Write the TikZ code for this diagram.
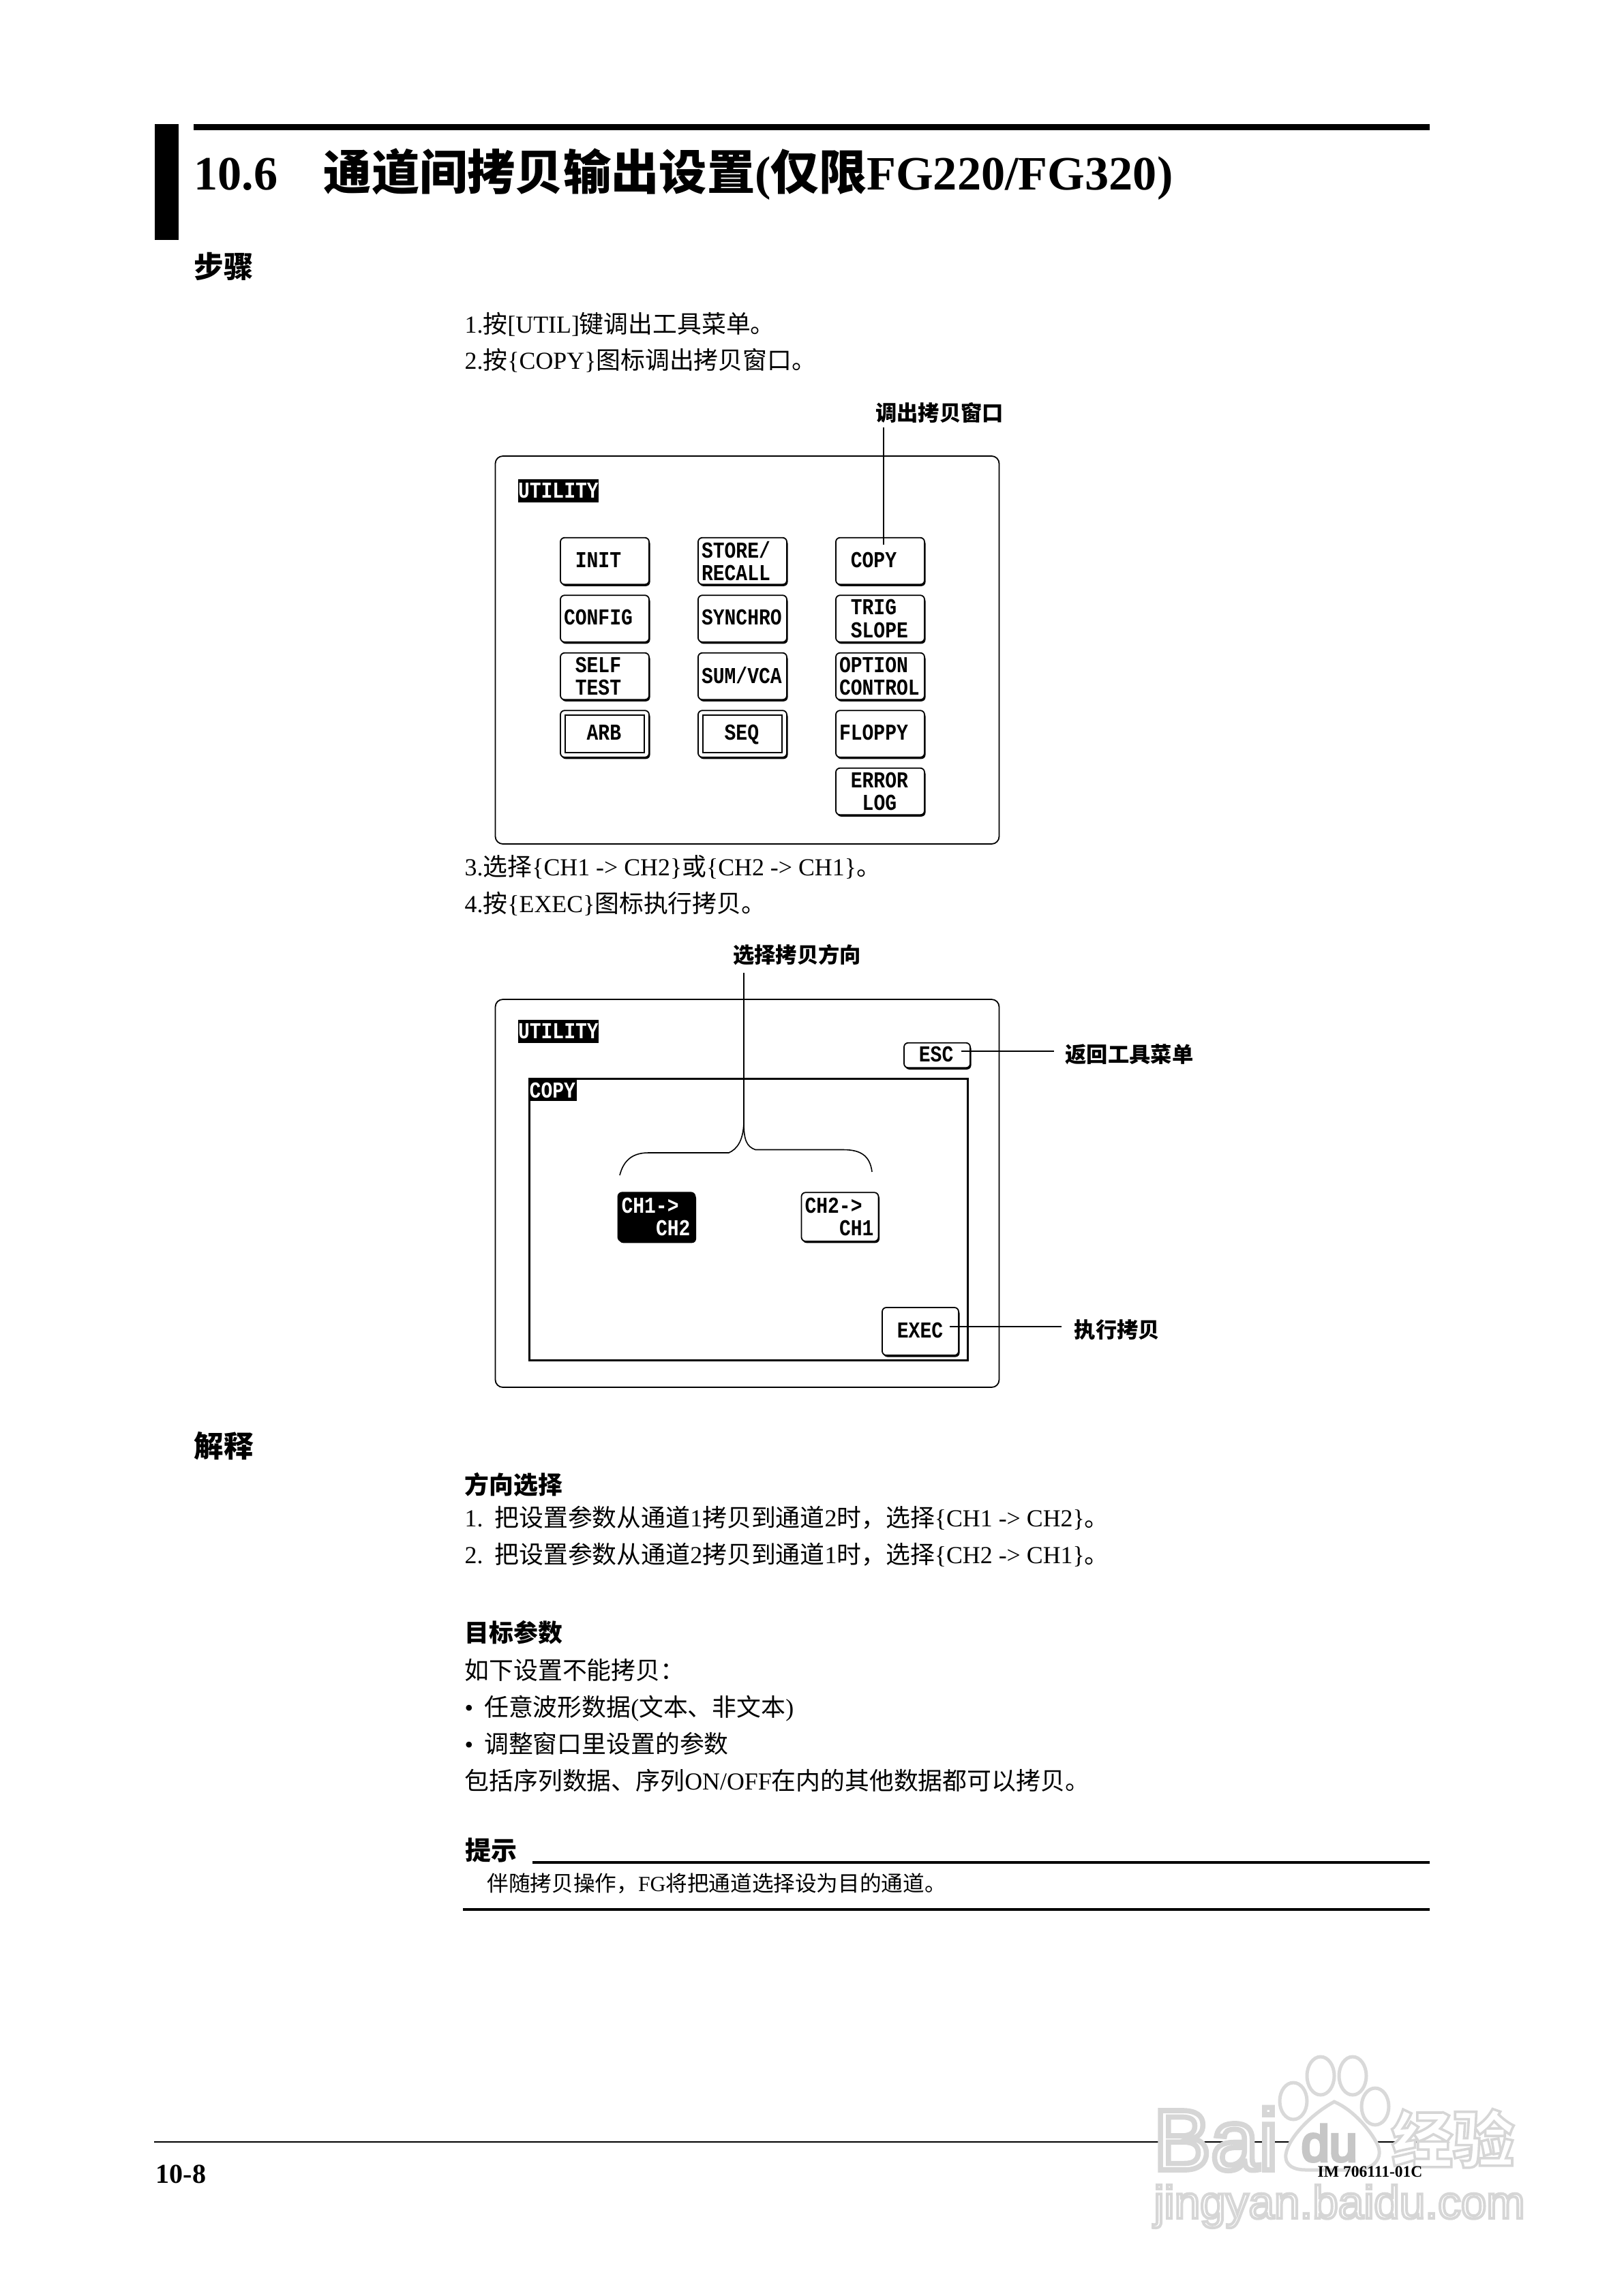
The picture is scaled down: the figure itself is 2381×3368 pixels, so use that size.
\documentclass[tikz,border=0pt]{standalone}
\usepackage{fontspec}
\setmainfont{Liberation Serif}
\newfontfamily\cjk{Noto Sans CJK SC}
\newfontfamily\scrfont[FakeStretch=.84]{Liberation Mono}
\newfontfamily\wmlat[FakeBold=6]{Liberation Sans}
\newfontfamily\wmzh[FakeBold=4]{Noto Sans CJK SC}
\usepackage{tikz}
\usetikzlibrary{positioning,shapes,shadows,calc}
\newcommand{\zh}[1]{{\cjk #1}}
\newcommand{\sk}{\phantom{X}}
\newcommand{\wmink}{\special{pdf:code 1 g .84 G}}
\tikzset{
    screentxt/.style={font=\scrfont\bfseries\fontsize{9.5}{9.4}\selectfont},
    btn/.style={screentxt, draw, fill=white, rounded corners=.6mm, line width=.18mm, outer sep=0,
        inner xsep=.5mm, inner ysep=0, text width=12mm, align=left, minimum height=6.85mm,
        general shadow={shadow xshift=.15mm, shadow yshift=-.25mm, fill=black}},
    oneline/.style={text depth=.4mm},
    btninner/.style={line width=.18mm},
    panelbox/.style={rectangle, rounded corners=1.1mm, draw, line width=.18mm, minimum width=73.9mm,
        minimum height=56.9mm, outer sep=0, inner sep=0},
    tag/.style={screentxt, fill=black, text=white, inner xsep=0, inner ysep=0, text width=11.8mm,
        minimum height=3.4mm},
    leader/.style={line width=.16mm},
    lbl/.style={font=\cjk\bfseries\fontsize{8.9}{11}\selectfont, inner sep=0},
    bodytxt/.style={anchor=base west, inner sep=0, font=\fontsize{10.2}{12}\selectfont},
    headtxt/.style={anchor=base west, inner sep=0, font=\cjk\bfseries\fontsize{10.2}{12}\selectfont},
    sidetxt/.style={anchor=base west, inner sep=0, font=\cjk\bfseries\fontsize{12.4}{14}\selectfont},
    rulebar/.style={line width=.4mm},
    wmtxt/.style={anchor=base west, inner sep=0},
    wmline/.style={draw=gray!30, line width=.5mm, fill=white}
}

\begin{document}
\begin{tikzpicture}[x=.1mm,y=-.1mm]
\useasboundingbox (0,0) rectangle (2381,3368);
\fill (227,182) rectangle (262,352);
\fill (284,182) rectangle (2097,191);
\node[anchor=base west, inner sep=0, font=\bfseries\fontsize{20}{24}\selectfont] (title) at (284,278)
    {10.6\hspace*{6.7mm}\zh{通道间拷贝输出设置}(\zh{仅限}FG220/FG320)};
\node[sidetxt] (stepshead) at (284,407) {步骤};
\node[bodytxt] (step1) at (681,488) {1.\zh{按}[UTIL]\zh{键调出工具菜单。}};
\node[bodytxt] (step2) at (681,541) {2.\zh{按}\{COPY\}\zh{图标调出拷贝窗口。}};
\node[bodytxt] (step3) at (681,1284) {3.\zh{选择}\{CH1 -> CH2\}\zh{或}\{CH2 -> CH1\}\zh{。}};
\node[bodytxt] (step4) at (681,1338) {4.\zh{按}\{EXEC\}\zh{图标执行拷贝。}};

\node[panelbox] (menupanel) at (1096,953.5) {};
\node[tag] (menutag) at (819,720) {UTILITY};
\node[btn,oneline] (btninit) at (887,823) {\sk INIT};
\node[btn,oneline,below=1.6mm of btninit] (btnconfig) {CONFIG};
\node[btn,below=1.6mm of btnconfig] (btnself) {\sk SELF\\\sk TEST};
\node[btn,oneline,below=1.6mm of btnself] (btnarb) {\phantom{XX}ARB};
\node[btn,right=7.2mm of btninit] (btnstore) {STORE/\\RECALL};
\node[btn,oneline,below=1.6mm of btnstore] (btnsynchro) {SYNCHRO};
\node[btn,oneline,below=1.6mm of btnsynchro] (btnsum) {SUM/VCA};
\node[btn,oneline,below=1.6mm of btnsum] (btnseq) {\phantom{XX}SEQ};
\node[btn,oneline,right=7.2mm of btnstore] (btncopy) {\sk COPY};
\node[btn,below=1.6mm of btncopy] (btntrig) {\sk TRIG\\\sk SLOPE};
\node[btn,below=1.6mm of btntrig] (btnoption) {OPTION\\CONTROL};
\node[btn,oneline,below=1.6mm of btnoption] (btnfloppy) {FLOPPY};
\node[btn,below=1.6mm of btnfloppy] (btnerror) {\sk ERROR\\\phantom{XX}LOG};
\draw[btninner] ($(btnarb.south west)+(7,-7)$) rectangle ($(btnarb.north east)+(-7,7)$);
\draw[btninner] ($(btnseq.south west)+(7,-7)$) rectangle ($(btnseq.north east)+(-7,7)$);
\node[lbl] (lblcopy) at (1378,606) {调出拷贝窗口};
\coordinate (tipcopy) at ($(btncopy.north)+(5,10)$);
\draw[leader] ($(lblcopy.south -| tipcopy)+(0,5)$) -- (tipcopy);

\node[panelbox] (copypanel) at (1096,1750.5) {};
\node[tag] (copytag) at (819,1513) {UTILITY};
\node[draw, line width=.3mm, fill=white, minimum width=64.3mm, minimum height=41.3mm, outer sep=0, inner sep=0,
    general shadow={shadow xshift=.1mm, shadow yshift=-.15mm, fill=black}] (copyframe) at (1097.5,1788.5) {};
\node[tag, text width=6.9mm, minimum height=3.1mm, anchor=north west] (frametag) at (776,1583) {COPY};
\node[btn, oneline, text width=8.7mm, minimum height=3.65mm] (btnesc) at (1374.5,1548) {\sk ESC};
\node[btn, text width=10.3mm, minimum height=7.15mm, fill=black, text=white] (btnchone) at (963,1785) {CH1->\\\phantom{XXX}CH2};
\node[btn, text width=10.3mm, minimum height=7.15mm, right=15.6mm of btnchone] (btnchtwo) {CH2->\\\phantom{XXX}CH1};
\node[btn, oneline, text width=10.2mm, minimum height=7mm] (btnexec) at (1350,1953) {\sk EXEC};
\node[lbl] (lbldir) at (1169,1401) {选择拷贝方向};
\node[lbl, anchor=west] (lblesc) at (1562,1547) {返回工具菜单};
\node[lbl, anchor=west] (lblexec) at (1575,1951) {执行拷贝};
\coordinate (bracetip) at (1091,1647);
\draw[leader] ($(lbldir.south -| bracetip)+(0,10)$) -- (bracetip);
\draw[leader] (909,1724) .. controls (915,1700) and (930,1691) .. (951,1691) -- (1069,1691)
    .. controls (1080,1686) and (1090,1675) .. (bracetip)
    .. controls (1091,1672) and (1095,1682) .. (1108,1686.5) -- (1237,1686.5)
    .. controls (1262,1686.5) and (1276,1695) .. (1279,1719);
\coordinate (tipesc) at ($(btnesc.east)+(-13,-6)$);
\draw[leader] (tipesc) -- ($(tipesc -| lblesc.west)+(-16,0)$);
\coordinate (tipexec) at ($(btnexec.east)+(-13,-7)$);
\draw[leader] (tipexec) -- ($(tipexec -| lblexec.west)+(-18,0)$);

\node[sidetxt] (notehead) at (284,2137) {解释};
\node[headtxt] (dirhead) at (681,2191) {方向选择};
\node[bodytxt] (dir1) at (681,2239) {1.\hspace*{1.7mm}\zh{把设置参数从通道}1\zh{拷贝到通道}2\zh{时，选择}\{CH1 -> CH2\}\zh{。}};
\node[bodytxt] (dir2) at (681,2293) {2.\hspace*{1.7mm}\zh{把设置参数从通道}2\zh{拷贝到通道}1\zh{时，选择}\{CH2 -> CH1\}\zh{。}};
\node[headtxt] (targethead) at (681,2408) {目标参数};
\node[bodytxt] (target0) at (681,2463) {\zh{如下设置不能拷贝：}};
\node[bodytxt] (target1) at (681,2517) {•\hspace*{1.6mm}\zh{任意波形数据}(\zh{文本、非文本})};
\node[bodytxt] (target2) at (681,2571) {•\hspace*{1.6mm}\zh{调整窗口里设置的参数}};
\node[bodytxt] (target3) at (681,2625) {\zh{包括序列数据、序列}ON/OFF\zh{在内的其他数据都可以拷贝。}};
\node[anchor=base west, inner sep=0, font=\cjk\bfseries\fontsize{10.8}{13}\selectfont] (tiphead) at (682,2728) {提示};
\draw[rulebar] (781,2732) -- (2097,2732);
\node[bodytxt, font=\fontsize{9}{11}\selectfont] (tiptxt) at (714,2774) {\zh{伴随拷贝操作，}FG\zh{将把通道选择设为目的通道。}};
\draw[rulebar] (679,2801) -- (2097,2801);

\draw[line width=.25mm] (226,3142) -- (2098,3142);
\node[wmtxt] (wmbai) at (1691,3183) {\wmlat\fontsize{36}{40}\selectfont\wmink Bai};
\node[wmtxt] (wmexp) at (2040,3172) {\wmzh\bfseries\fontsize{25.7}{30}\selectfont\wmink 经验};
\node[wmtxt] (wmurl) at (1692,3254) {\wmlat\fontsize{19.2}{24}\selectfont\wmink jingyan.baidu.com};
\draw[wmline] (1897,3082) ellipse (20 and 27);
\draw[wmline] (1937,3045) ellipse (20 and 28);
\draw[wmline] (1984,3045) ellipse (20 and 28);
\draw[wmline] (2017,3090) ellipse (20 and 27);
\draw[wmline] (1957,3083) .. controls (1925,3100) and (1890,3135) .. (1886,3160)
    .. controls (1884,3178) and (1900,3183) .. (1915,3183) -- (1988,3183)
    .. controls (2015,3183) and (2030,3165) .. (2020,3145) .. controls (2010,3125) and (1985,3095) .. (1957,3083) -- cycle;
\node[wmtxt, text=gray!45, font=\wmlat\fontsize{21}{24}\selectfont] (wmdu) at (1908,3170) {du};

\node[anchor=base west, inner sep=0, font=\bfseries\fontsize{11.4}{14}\selectfont] (pagenum) at (228,3202) {10-8};
\node[anchor=base west, inner sep=0, font=\bfseries\fontsize{6.7}{8}\selectfont] (docnum) at (1932,3193) {IM 706111-01C};
\end{tikzpicture}
\end{document}
